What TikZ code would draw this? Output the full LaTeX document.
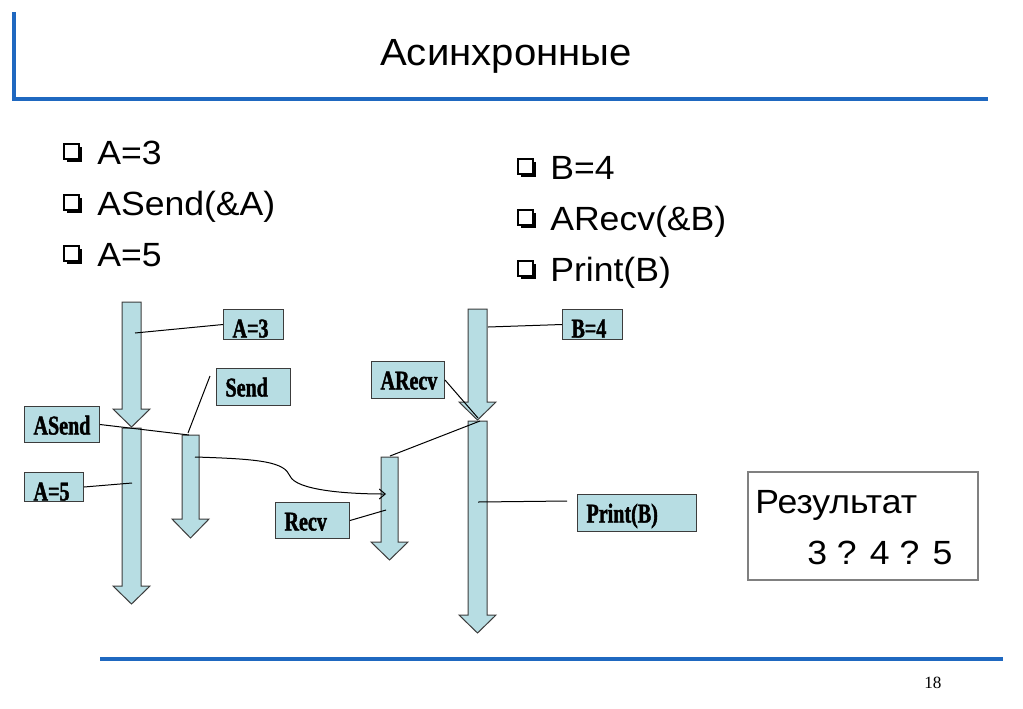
\documentclass[tikz,border=0pt]{standalone}
\usepackage{fontspec}
\setmainfont{Liberation Sans}[FakeStretch=1.06]
\newfontfamily\lblfont{Liberation Serif}[FakeStretch=0.74,BoldFeatures={FakeBold=1.5}]
\newfontfamily\numfont{Liberation Serif}
\usetikzlibrary{arrows.meta}
\newdimen\px \px=0.7pt
\definecolor{flow}{RGB}{183,221,227}
\definecolor{edgegray}{RGB}{60,60,60}
\definecolor{rulecol}{RGB}{31,104,192}
\definecolor{boxgray}{RGB}{128,128,128}
\newcommand\flowarrow[5]{%
  \draw[flowshape] (#1-#5,#2) -- (#1+#5,#2) -- (#1+#5,#3) -- (#1+18.5,#3) -- (#1,#4)
    -- (#1-18.5,#3) -- (#1-#5,#3) -- cycle;}
% bullet square with shadow: #1 left x, #2 text baseline
\newcommand\bsq[2]{%
  \fill[black] (#1+3.5,#2-17.5) rectangle (#1+19,#2-2);
  \draw[black,fill=white,line width=1.2\px] (#1+1,#2-20) rectangle (#1+16,#2-5);}
\begin{document}
\begin{tikzpicture}[x=0.7pt,y=-0.7pt,
  flowshape/.style={draw=edgegray,fill=flow,line width=1\px,line join=miter},
  lbl/.style={draw=edgegray,fill=flow,line width=1\px,anchor=north west,
    inner xsep=9\px,inner ysep=0pt,text height=28\px,align=left,
    font=\lblfont\bfseries\fontsize{19}{21}\selectfont},
  conn/.style={draw=black,line width=1\px},
  rulestyle/.style={draw=rulecol,line width=4\px},
  bullet/.style={anchor=base west,inner sep=0pt,font=\fontsize{23.5}{28}\selectfont},
  bigtext/.style={anchor=base west,inner sep=0pt,font=\fontsize{23.5}{28}\selectfont}]
\useasboundingbox (0,0) rectangle (1023,708);

% header and footer rules
\draw[rulestyle] (13.5,12) -- (13.5,99) -- (988,99);
\draw[rulestyle,line width=3.5\px] (100,659) -- (1003,659);
\node[anchor=base,inner sep=0pt,font=\fontsize{26.5}{30}\selectfont] (title) at (506,65) {Асинхронные};
\node[anchor=base west,inner sep=0pt,font=\numfont\fontsize{12}{14}\selectfont] (pagenum) at (924,688) {18};

% bullets
\bsq{63}{164} \bsq{63}{215} \bsq{63}{266}
\bsq{517}{179} \bsq{517}{230} \bsq{517}{281}
\node[bullet] (b1) at (97,164) {A=3};
\node[bullet] (b2) at (97,215) {ASend(\&A)};
\node[bullet] (b3) at (97,266) {A=5};
\node[bullet] (c1) at (550,179) {B=4};
\node[bullet] (c2) at (550,230) {ARecv(\&B)};
\node[bullet] (c3) at (550,281) {Print(B)};

% flow arrows
\flowarrow{131.5}{302}{409}{427}{9.5}
\flowarrow{131.5}{428}{586}{604}{9.5}
\flowarrow{190.5}{435}{519}{538}{8.5}
\flowarrow{389.5}{457}{542}{560}{8.5}
\flowarrow{477.5}{309}{402}{420}{9.5}
\flowarrow{477.5}{421}{615}{633}{9.5}

% anchor points on the arrows
\coordinate (pA3) at (135,333);
\coordinate (sendfree) at (210,376);
\coordinate (sendtop) at (188,433);
\coordinate (sendcorner) at (189,435);
\coordinate (pA5) at (132,483);
\coordinate (sendmid) at (195,457);
\coordinate (recvin) at (386,494);
\coordinate (recvmid) at (386,510);
\coordinate (btip) at (478,418);
\coordinate (recvtop) at (390,456);
\coordinate (btop) at (480,421);
\coordinate (pB4) at (488,327);
\coordinate (printfree) at (567,501);
\coordinate (pPrint) at (478,502);

% labels
\node[lbl,text width=42\px,text depth=2\px] (lA3) at (223,309) {A=3};
\node[lbl,text width=56\px,text depth=9\px] (lSend) at (216,368) {Send};
\node[lbl,text width=57\px,text depth=8\px] (lASend) at (24,406) {ASend};
\node[lbl,text width=41\px,text depth=1\px] (lA5) at (24,472) {A=5};
\node[lbl,text width=56\px,text depth=8\px] (lRecv) at (275,502) {Recv};
\node[lbl,text width=42\px,text depth=2\px] (lB4) at (562,309) {B=4};
\node[lbl,text width=55\px,text depth=9\px] (lARecv) at (371,361) {ARecv};
\node[lbl,text width=101\px,text depth=9\px] (lPrint) at (577,494) {Print(B)};

% connectors
\draw[conn] (lA3.west) -- (pA3);
\draw[conn] (sendfree) -- (sendtop);
\draw[conn] (lASend.east) -- (sendcorner);
\draw[conn] (lA5.east) -- (pA5);
\draw[conn,-{Straight Barb[length=4.2pt,width=7pt]}] (sendmid) .. controls (262,459) and (284,462) .. (290,476)
  .. controls (296,490) and (345,494) .. (recvin);
\draw[conn] (lRecv.east) -- (recvmid);
\draw[conn] (lARecv.east) -- (btip);
\draw[conn] (recvtop) -- (btop);
\draw[conn] (lB4.west) -- (pB4);
\draw[conn] (printfree) -- (pPrint);

% result box
\node[draw=boxgray,line width=2\px,anchor=north west,minimum width=230\px,minimum height=108\px,inner sep=0pt] (res) at (747,471) {};
\node[bigtext] (restitle) at (755,513) {Результат};
\node[bigtext] (resval) at (807,564) {3 ? 4 ? 5};
\end{tikzpicture}
\end{document}
